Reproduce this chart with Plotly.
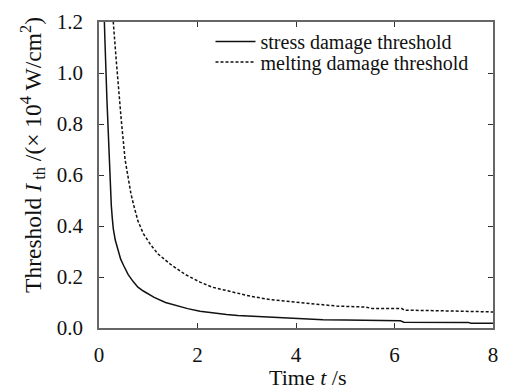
import plotly.graph_objects as go

# Data
stress_t = [0.10, 0.107, 0.12, 0.16, 0.207, 0.233, 0.25, 0.27, 0.29, 0.33, 0.39, 0.44, 0.50, 0.59, 0.69, 0.79,
            0.9, 1.0, 1.12, 1.35, 1.59, 1.8, 2.05, 2.3, 2.59, 2.82, 3.12, 3.49, 3.8, 4.15, 4.55, 5.0, 5.55,
            6.12, 6.19, 6.8, 7.5, 7.55, 8.0]
stress_v = [1.26, 1.2, 1.13, 0.90, 0.65, 0.53, 0.48, 0.43, 0.39, 0.345, 0.30, 0.27, 0.245, 0.21, 0.183, 0.16,
            0.145, 0.133, 0.12, 0.10, 0.087, 0.076, 0.066, 0.059, 0.053, 0.049, 0.046, 0.040, 0.037, 0.035,
            0.032, 0.031, 0.029, 0.028, 0.023, 0.023, 0.022, 0.019, 0.019]

melt_t = [0.27, 0.29, 0.35, 0.40, 0.45, 0.53, 0.57, 0.65, 0.72, 0.79, 0.9, 1.05, 1.2, 1.45, 1.75, 2.05,
          2.3, 2.59, 2.82, 3.09, 3.49, 4.15, 4.82, 5.42, 5.55, 6.15, 6.2, 7.08, 7.95, 8.0]
melt_v = [1.3, 1.2, 1.05, 0.93, 0.82, 0.66, 0.61, 0.525, 0.47, 0.42, 0.37, 0.326, 0.29, 0.25, 0.21, 0.18,
          0.16, 0.147, 0.139, 0.124, 0.111, 0.098, 0.086, 0.082, 0.076, 0.076, 0.070, 0.067, 0.063, 0.063]

x_ticks = [0, 2, 4, 6, 8]
y_ticks = [0.0, 0.2, 0.4, 0.6, 0.8, 1.0, 1.2]

FONT = "Liberation Serif, Times New Roman, serif"
INK = "#111111"

fig = go.Figure()
fig.add_trace(go.Scatter(x=stress_t, y=stress_v, mode="lines", name="stress damage threshold",
                         line=dict(color=INK, width=1.5), legend="legend"))
fig.add_trace(go.Scatter(x=melt_t, y=melt_v, mode="lines", name="melting damage threshold",
                         line=dict(color=INK, width=1.5, dash="3px,2px"), legend="legend2"))

axis_common = dict(showgrid=False, zeroline=False, showline=True, linecolor="#666666", linewidth=1.5,
                   ticks="inside", ticklen=5, tickwidth=1, tickcolor="#333333", mirror="ticks",
                   tickfont=dict(family=FONT, size=21, color=INK))

fig.update_xaxes(range=[0, 8], tickvals=x_ticks, ticktext=[str(v) for v in x_ticks],
                 ticklabelstandoff=7, **axis_common)
fig.update_yaxes(range=[0, 1.2], tickvals=y_ticks, ticktext=[f"{v:.1f}" for v in y_ticks],
                 ticklabelstandoff=10, **axis_common)

fig.add_annotation(text="Time <i>t</i> /s", xref="paper", yref="paper", x=0.53, y=-0.163,
                   xanchor="center", yanchor="middle", showarrow=False,
                   font=dict(family=FONT, size=22, color=INK))
fig.add_annotation(text="Threshold <i>I</i><sub> th</sub> /(× 10<sup>4</sup> W/cm<sup>2</sup>)",
                   xref="paper", yref="paper", x=-0.168, y=0.565, textangle=-90,
                   xanchor="center", yanchor="middle", showarrow=False,
                   font=dict(family=FONT, size=23.5, color=INK))

leg_common = dict(xanchor="left", yanchor="middle", bgcolor="rgba(0,0,0,0)",
                  font=dict(family=FONT, size=20, color=INK), itemwidth=40, borderwidth=0)

fig.update_layout(
    width=508, height=392,
    margin=dict(l=99, r=10, t=15, b=64),
    paper_bgcolor="white", plot_bgcolor="white",
    showlegend=True,
    legend=dict(x=0.283, y=0.936, **leg_common),
    legend2=dict(x=0.283, y=0.869, **leg_common),
)

fig.write_html("out.html")
